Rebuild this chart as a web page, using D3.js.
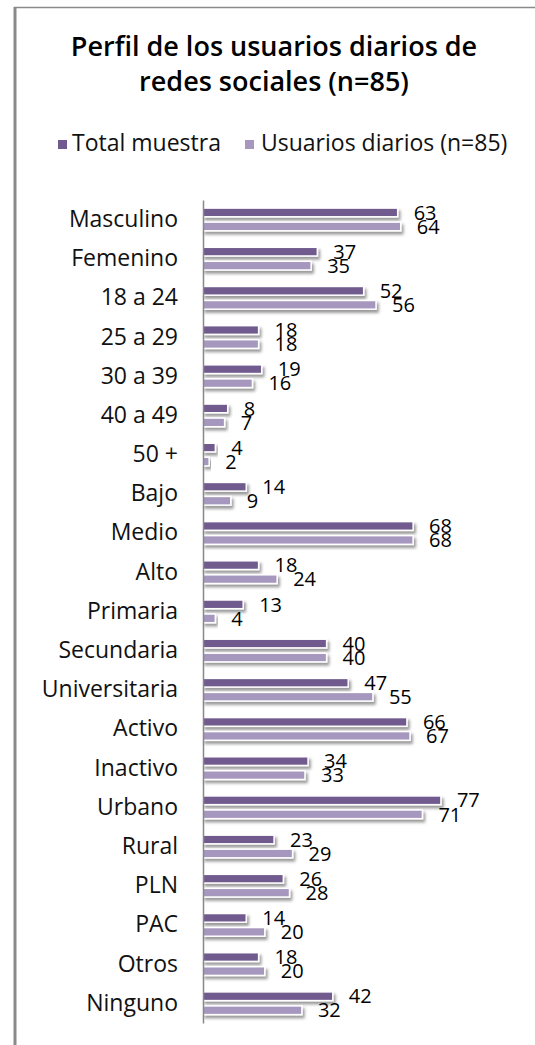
<!DOCTYPE html>
<html>
<head>
<meta charset="utf-8">
<script src="https://cdn.jsdelivr.net/npm/d3@7"></script>
<style>
  html, body { margin: 0; padding: 0; background: #fff; }
  svg { display: block; }
</style>
</head>
<body>
<script>
const categories = ["Masculino","Femenino","18 a 24","25 a 29","30 a 39","40 a 49","50 +","Bajo","Medio","Alto","Primaria","Secundaria","Universitaria","Activo","Inactivo","Urbano","Rural","PLN","PAC","Otros","Ninguno"];
const totalMuestra = [63,37,52,18,19,8,4,14,68,18,13,40,47,66,34,77,23,26,14,18,42];
const usuariosDiarios = [64,35,56,18,16,7,2,9,68,24,4,40,55,67,33,71,29,28,20,20,32];
const seriesNames = ["Total muestra","Usuarios diarios (n=85)"];
const seriesColors = ["#715a8e","#a697bf"];
const titleLines = ["Perfil de los usuarios diarios de","redes sociales (n=85)"];

const W = 535, H = 1045;
const FONT = "'Open Sans', sans-serif";

const svg = d3.select("body").append("svg").attr("width", W).attr("height", H);

const defs = svg.append("defs");
const f = defs.append("filter").attr("id","shadow").attr("x","-10%").attr("y","-50%").attr("width","130%").attr("height","250%");
f.append("feDropShadow").attr("dx",2).attr("dy",3).attr("stdDeviation",1.4).attr("flood-color","#000").attr("flood-opacity",0.4);

// border
svg.append("line").attr("x1",15).attr("x2",15).attr("y1",7).attr("y2",H).attr("stroke","#8a8a8a").attr("stroke-width",3);
svg.append("line").attr("x1",14).attr("x2",W).attr("y1",7.5).attr("y2",7.5).attr("stroke","#8a8a8a").attr("stroke-width",1.5);

// title
svg.append("text").attr("x",274).attr("y",56).attr("text-anchor","middle")
  .style("font-family",FONT).style("font-weight","600").style("font-size","27px").attr("fill","#000")
  .selectAll("tspan").data(titleLines).join("tspan")
  .attr("x",274).attr("dy",(d,i)=> i===0 ? 0 : 35).text(d=>d);

// legend
const legendX = [58, 245];
const lg = svg.append("g").selectAll("g").data(seriesNames).join("g")
  .attr("transform",(d,i)=>`translate(${legendX[i]},0)`);
lg.append("rect").attr("x",0).attr("y",140).attr("width",9).attr("height",9).attr("fill",(d,i)=>seriesColors[i]);
lg.append("text").attr("x",(d,i)=> i===0 ? 14 : 16).attr("y",151).style("font-family",FONT).style("font-size","23px").attr("fill","#111").text(d=>d);

// scales
const x = d3.scaleLinear().domain([0,80]).range([203, 203 + 80*3.09]);
const y = d3.scaleBand().domain(categories).range([200, 1023]).padding(0);
const y1 = d3.scaleBand().domain([0,1]).range([-11.5, 11.2]).paddingInner(0.38);

const data = categories.map((c,i)=>({cat:c, vals:[totalMuestra[i], usuariosDiarios[i]]}));

const groups = svg.append("g").selectAll("g").data(data).join("g")
  .attr("transform", d => `translate(0,${y(d.cat) + y.bandwidth()/2})`);

groups.selectAll("rect").data(d => d.vals.map((v,j)=>({v,j}))).join("rect")
  .attr("x", x(0)).attr("y", d => y1(d.j))
  .attr("width", d => x(d.v) - x(0)).attr("height", y1.bandwidth())
  .attr("fill", d => seriesColors[d.j])
  .attr("stroke","#fff").attr("stroke-width",1.5)
  .attr("filter","url(#shadow)");

groups.selectAll("text.val").data(d => d.vals.map((v,j)=>({v,j}))).join("text")
  .attr("class","val")
  .attr("x", d => x(d.v) + 16)
  .attr("y", d => y1(d.j) + y1.bandwidth()/2)
  .attr("dy","0.36em")
  .style("font-family",FONT).style("font-size","20px").attr("fill","#000")
  .text(d => d.v);

// category axis
const axis = svg.append("g").attr("transform",`translate(${x(0)},0)`)
  .call(d3.axisLeft(y).tickSize(0).tickPadding(25));
axis.select(".domain").attr("stroke","#888").attr("stroke-width",1.5);
axis.selectAll("text").style("font-family",FONT).style("font-size","23px").attr("fill","#111");
</script>
</body>
</html>
